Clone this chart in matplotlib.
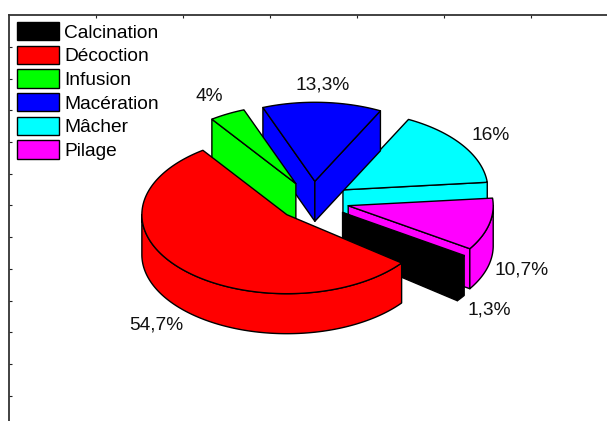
import numpy as np
from matplotlib import pyplot as plt
from matplotlib.patches import Patch

categories = ['Calcination', 'Décoction', 'Infusion', 'Macération', 'Mâcher', 'Pilage']
values = [1.3, 54.7, 4, 13.3, 16, 10.7]
colors = ['#000000', '#ff0000', '#00ff00', '#0000ff', '#00ffff', '#ff00ff']
label_pos = [(489, 310), (156, 325), (209, 97), (323, 85), (491, 136), (522, 270)]

# pie geometry, in pixels of the picture
cx, cy = 313, 201
rx, ry = 145, 79
depth = 40
explode = 0.25
start_angle = -33
draw_order = [4, 3, 2, 5, 0, 1]

def arc(x0, y0, a1, a2):
    t = np.radians(np.linspace(a1, a2, 200))
    return x0 + rx * np.cos(t), y0 - ry * np.sin(t)

def draw_slice(ax, a1, a2, color):
    # slices run clockwise from a1 down to a2, keep them in a range the wall test can use
    if a1 < -180:
        a1, a2 = a1 + 360, a2 + 360
    mid = np.radians((a1 + a2) / 2)
    x0 = cx + explode * rx * np.cos(mid)
    y0 = cy - explode * ry * np.sin(mid)
    style = dict(facecolor=color, edgecolor='black', linewidth=1, joinstyle='round')

    # cut faces, only the ones turned to the viewer
    for a, show in ((a1, np.cos(np.radians(a1)) < 0), (a2, np.cos(np.radians(a2)) > 0)):
        if show:
            px = x0 + rx * np.cos(np.radians(a))
            py = y0 - ry * np.sin(np.radians(a))
            ax.fill([x0, px, px, x0], [y0, py, py + depth, y0 + depth], **style)

    # outer wall, front part of the rim only
    lo, hi = max(a2, -180), min(a1, 0)
    if hi > lo:
        x, y = arc(x0, y0, hi, lo)
        ax.fill(np.r_[x, x[::-1]], np.r_[y, y[::-1] + depth], **style)

    # top face
    x, y = arc(x0, y0, a1, a2)
    ax.fill(np.r_[x0, x], np.r_[y0, y], **style)

fig = plt.figure(figsize=(6.07, 4.21), dpi=100)
ax = fig.add_axes([9 / 607, 0, 598 / 607, 406 / 421])
ax.set_xlim(9, 607)
ax.set_ylim(421, 15)

for s in ['right', 'bottom']:
    ax.spines[s].set_visible(False)
for s in ['left', 'top']:
    ax.spines[s].set_linewidth(1.3)
    ax.spines[s].set_color('#333333')

ax.xaxis.tick_top()
ax.set_xticks(np.arange(96, 607, 87))
ax.set_yticks(np.arange(47, 421, 31.7))
ax.tick_params(direction='in', length=2, width=0.8, labeltop=False, labelleft=False, color='#222222')

edges = start_angle - np.r_[0, np.cumsum(values)] * 3.6
for i in draw_order:
    draw_slice(ax, edges[i], edges[i + 1], colors[i])

for v, (x, y) in zip(values, label_pos):
    ax.text(x, y, f'{v:g}%'.replace('.', ','), ha='center', va='center',
            fontsize=13.8, family='Liberation Sans', color='#111111')

handles = [Patch(facecolor=c, edgecolor='black', linewidth=1) for c in colors]
ax.legend(handles, categories, loc='upper left', bbox_to_anchor=(17 / 607, 1 - 22 / 421),
          bbox_transform=fig.transFigure, frameon=False, borderpad=0, borderaxespad=0,
          prop={'family': 'Liberation Sans', 'size': 13.8},
          handlelength=2.2, handleheight=1.09, labelspacing=0.21, handletextpad=0.27)

fig.savefig('out.png', dpi=100)
